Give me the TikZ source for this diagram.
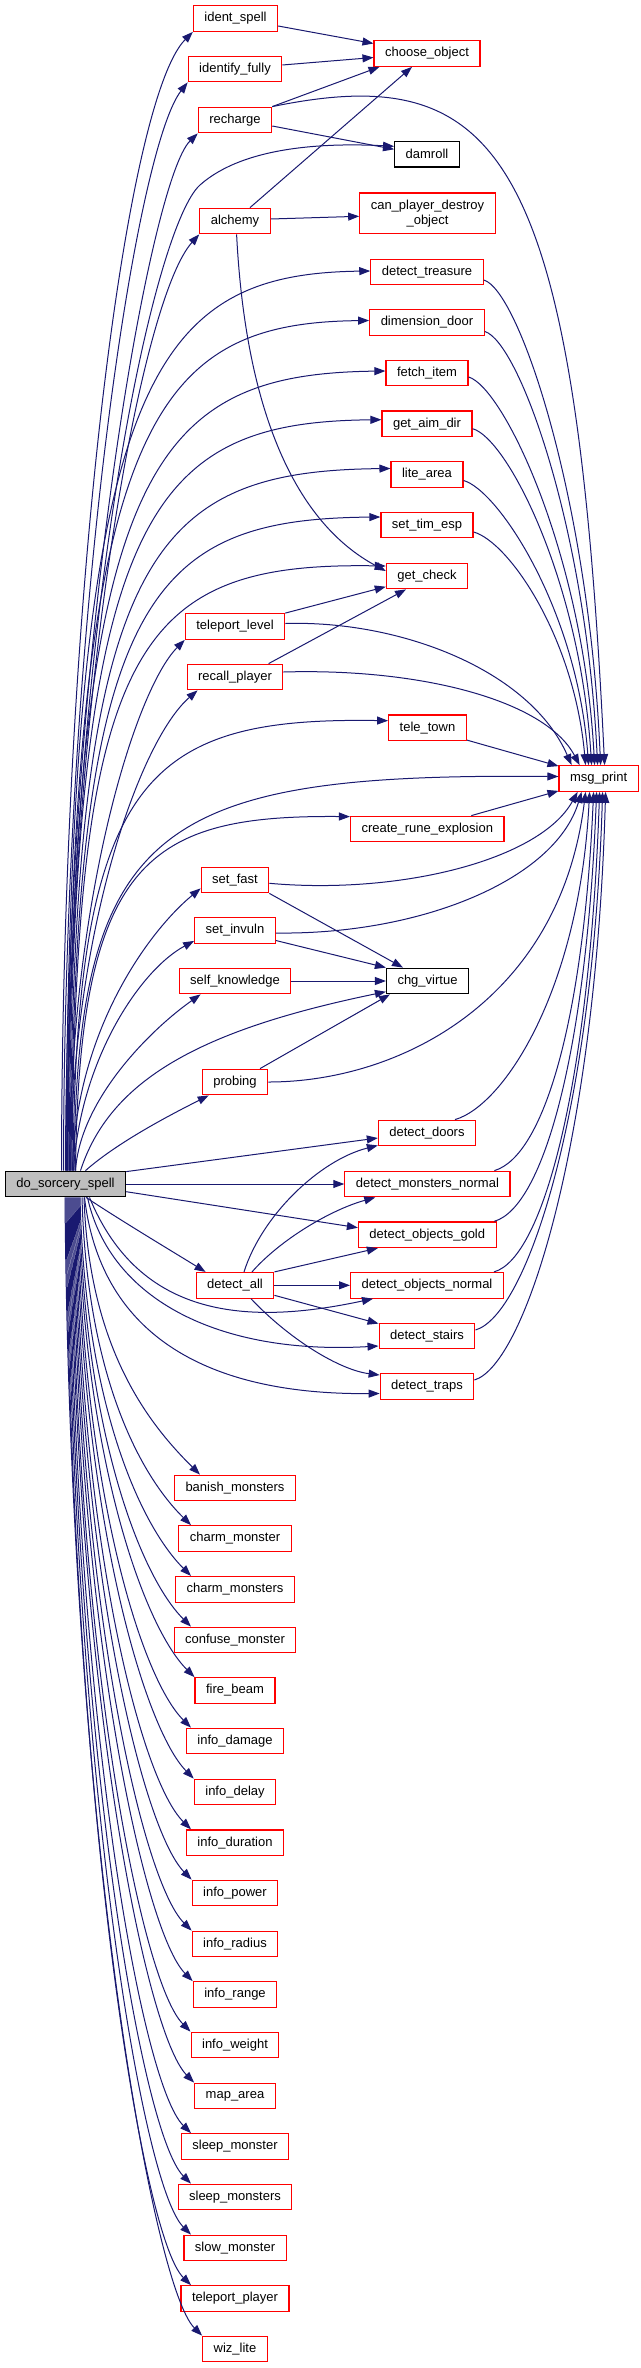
\documentclass[tikz,border=0pt]{standalone}
\usepackage{fontspec}
\setmainfont{Liberation Sans}
\usetikzlibrary{arrows.meta,calc}
\definecolor{edgec}{HTML}{191970}
\definecolor{boxred}{HTML}{FF0000}
\definecolor{rootgray}{HTML}{BFBFBF}
\begin{document}
\begin{tikzpicture}[x=1pt,y=-1pt,
 fn/.style={draw=boxred, fill=white, line width=1.2pt, inner xsep=11pt, inner ysep=0pt, minimum height=25.6pt, font=\fontsize{13}{15}\selectfont, text=black},
 leaf/.style={fn, draw=black},
 root/.style={fn, draw=black, fill=rootgray},
 edge/.style={draw=edgec, line width=1pt, -{Triangle[length=11pt,width=8pt]}}]
\useasboundingbox[fill=white] (0,0) rectangle (640,2368);
% nodes
\node[fn] (ident_spell) at (235.5,18.5) {ident\_spell};
\node[fn] (choose_object) at (427,53.5) {choose\_object};
\node[fn] (identify_fully) at (235,69) {identify\_fully};
\node[fn] (recharge) at (235,120) {recharge};
\node[leaf] (damroll) at (427,154.3) {damroll};
\node[fn] (alchemy) at (235,221) {alchemy};
\node[fn, align=center, minimum height=40.7pt] (can_player) at (427.5,213.3) {can\_player\_destroy\\\_object};
\node[fn] (detect_treasure) at (427,272) {detect\_treasure};
\node[fn] (dimension_door) at (427,322.5) {dimension\_door};
\node[fn] (fetch_item) at (427,373) {fetch\_item};
\node[fn] (get_aim_dir) at (427,423.7) {get\_aim\_dir};
\node[fn] (lite_area) at (427,474.5) {lite\_area};
\node[fn] (set_tim_esp) at (427,525) {set\_tim\_esp};
\node[fn] (get_check) at (427,576) {get\_check};
\node[fn] (teleport_level) at (235,626.5) {teleport\_level};
\node[fn] (recall_player) at (235,677) {recall\_player};
\node[fn] (tele_town) at (427.5,727.7) {tele\_town};
\node[fn] (msg_print) at (598.6,778.5) {msg\_print};
\node[fn] (create_rune_explosion) at (427.3,829) {create\_rune\_explosion};
\node[fn] (set_fast) at (235,880) {set\_fast};
\node[fn] (set_invuln) at (235,930.5) {set\_invuln};
\node[fn] (self_knowledge) at (235,981) {self\_knowledge};
\node[leaf] (chg_virtue) at (427.5,981) {chg\_virtue};
\node[fn] (probing) at (235,1082) {probing};
\node[fn] (detect_doors) at (427,1133) {detect\_doors};
\node[root] (dss) at (65.5,1184) {do\_sorcery\_spell};
\node[fn] (detect_monsters_normal) at (427.4,1184) {detect\_monsters\_normal};
\node[fn] (detect_objects_gold) at (427.3,1234.7) {detect\_objects\_gold};
\node[fn] (detect_all) at (235,1285.3) {detect\_all};
\node[fn] (detect_objects_normal) at (427,1285.3) {detect\_objects\_normal};
\node[fn] (detect_stairs) at (427,1336) {detect\_stairs};
\node[fn] (detect_traps) at (427,1386.5) {detect\_traps};
\node[fn] (banish_monsters) at (235,1488) {banish\_monsters};
\node[fn] (charm_monster) at (235,1538.5) {charm\_monster};
\node[fn] (charm_monsters) at (235,1589.3) {charm\_monsters};
\node[fn] (confuse_monster) at (235,1640) {confuse\_monster};
\node[fn] (fire_beam) at (235,1690.5) {fire\_beam};
\node[fn] (info_damage) at (235,1741) {info\_damage};
\node[fn] (info_delay) at (235,1792) {info\_delay};
\node[fn] (info_duration) at (235,1842.7) {info\_duration};
\node[fn] (info_power) at (235,1893) {info\_power};
\node[fn] (info_radius) at (235,1944) {info\_radius};
\node[fn] (info_range) at (235,1994.5) {info\_range};
\node[fn] (info_weight) at (235,2045) {info\_weight};
\node[fn] (map_area) at (235,2096) {map\_area};
\node[fn] (sleep_monster) at (235,2146.5) {sleep\_monster};
\node[fn] (sleep_monsters) at (235,2197) {sleep\_monsters};
\node[fn] (slow_monster) at (235,2248) {slow\_monster};
\node[fn] (teleport_player) at (235,2298.5) {teleport\_player};
\node[fn] (wiz_lite) at (235,2349) {wiz\_lite};
% edges among callees
\draw[edge] ($(ident_spell.east)+(0,7.5)$) -- ($(choose_object.west)+(0,-10)$);
\draw[edge] ($(identify_fully.east)+(0,-4)$) -- ($(choose_object.west)+(0,4)$);
\draw[edge] (recharge.north east) -- ($(choose_object.south west)+(6,0)$);
\draw[edge] ($(alchemy.north)+(15,0)$) -- ($(choose_object.south)+(-15,0)$);
\draw[edge] ($(recharge.east)+(0,6)$) -- ($(damroll.west)+(0,-5)$);
\draw[edge] (recharge.north east) .. controls (500,60) and (575,150) .. ($(msg_print.north)+(6,0)$);
\draw[edge] ($(alchemy.east)+(0,-2)$) -- ($(can_player.west)+(0,3)$);
\draw[edge] ($(alchemy.south)+(1.6,0)$) .. controls (245,400) and (290,520) .. ($(get_check.west)+(0,-5)$);
\draw[edge] ($(detect_treasure.east)+(0,8)$) .. controls (519,290) and (589,499) .. ($(msg_print.north)+(2,0)$);
\draw[edge] ($(dimension_door.east)+(0,9)$) .. controls (519,342) and (586,527) .. ($(msg_print.north)+(-1,0)$);
\draw[edge] ($(fetch_item.east)+(0,4)$) .. controls (503,387) and (583,552) .. ($(msg_print.north)+(-4,0)$);
\draw[edge] ($(get_aim_dir.east)+(0,5)$) .. controls (507,438) and (580,580) .. ($(msg_print.north)+(-7,0)$);
\draw[edge] ($(lite_area.east)+(0,6)$) .. controls (498,490) and (577,609) .. ($(msg_print.north)+(-10,0)$);
\draw[edge] ($(set_tim_esp.east)+(0,7)$) .. controls (509,542) and (574,637) .. ($(msg_print.north)+(-13,0)$);
\draw[edge] (teleport_level.north east) -- ($(get_check.west)+(0,10.7)$);
\draw[edge] ($(teleport_level.east)+(0,-3)$) .. controls (400,620) and (530,670) .. ($(msg_print.north)+(-27,0)$);
\draw[edge] ($(recall_player.north)+(33.6,0)$) -- ($(get_check.south)+(-21,0)$);
\draw[edge] ($(recall_player.east)+(0,-5)$) .. controls (420,668) and (545,700) .. ($(msg_print.north)+(-19,0)$);
\draw[edge] ($(tele_town.south east)+(0,-1)$) -- ($(msg_print.north west)+(0,1)$);
\draw[edge] ($(create_rune_explosion.north)+(44,0)$) -- ($(msg_print.south west)+(0,-1)$);
\draw[edge] ($(set_fast.east)+(0,3.3)$) .. controls (400,895) and (540,860) .. ($(msg_print.south)+(-21,0)$);
\draw[edge] (set_fast.south east) -- ($(chg_virtue.north)+(-24.5,0)$);
\draw[edge] ($(set_invuln.east)+(0,2.5)$) .. controls (420,935) and (555,880) .. ($(msg_print.south)+(-17,0)$);
\draw[edge] ($(set_invuln.east)+(0,10)$) -- (chg_virtue.north west);
\draw[edge] (self_knowledge.east) -- (chg_virtue.west);
\draw[edge] ($(probing.north)+(25,0)$) -- ($(chg_virtue.south west)+(4,0)$);
\draw[edge] (probing.east) .. controls (400,1082) and (560,1000) .. ($(msg_print.south)+(-13,0)$);
\draw[edge] ($(detect_doors.north)+(28,0)$) .. controls (505,1105) and (579.6,988) .. ($(msg_print.south)+(-9,0)$);
\draw[edge] ($(detect_monsters_normal.north)+(67,0)$) .. controls (544,1156) and (583.6,1019) .. ($(msg_print.south)+(-5,0)$);
\draw[edge] ($(detect_objects_gold.north)+(67,0)$) .. controls (544,1207) and (586.6,1049.7) .. ($(msg_print.south)+(-2,0)$);
\draw[edge] ($(detect_objects_normal.north)+(67,0)$) .. controls (544,1258) and (589.6,1080) .. ($(msg_print.south)+(1,0)$);
\draw[edge] ($(detect_stairs.east)+(0,-6)$) .. controls (526.7,1315) and (592.6,1114.6) .. ($(msg_print.south)+(4,0)$);
\draw[edge] ($(detect_traps.east)+(0,-6.5)$) .. controls (525,1365) and (595.6,1144.4) .. ($(msg_print.south)+(7,0)$);
\draw[edge] ($(detect_all.north)+(9,0)$) .. controls (262,1215) and (320,1160) .. ($(detect_doors.south west)+(0,-1)$);
\draw[edge] ($(detect_all.north)+(17,0)$) .. controls (280,1240) and (330,1210) .. ($(detect_monsters_normal.south west)+(31,0)$);
\draw[edge] (detect_all.north east) -- ($(detect_objects_gold.south west)+(20,0)$);
\draw[edge] (detect_all.east) -- (detect_objects_normal.west);
\draw[edge] ($(detect_all.east)+(0,10)$) -- ($(detect_stairs.north west)+(0,1)$);
\draw[edge] ($(detect_all.south)+(16,0)$) .. controls (290,1340) and (340,1370) .. ($(detect_traps.west)+(0,-11.5)$);
% edges from do_sorcery_spell, upward
\draw[edge] ($(dss.north)+(-4,0)$) .. controls (62,600) and (125,100) .. (ident_spell.south west);
\draw[edge] ($(dss.north)+(-2,0)$) .. controls (64,620) and (135,150) .. (identify_fully.south west);
\draw[edge] (dss.north) .. controls (66,650) and (150,180) .. (recharge.south west);
\draw[edge] ($(dss.north)+(2,0)$) .. controls (68,700) and (140,300) .. (alchemy.south west);
\draw[edge] ($(dss.north)+(1,0)$) .. controls (70,600) and (155,225) .. (200,185) .. controls (245,145) and (330,143) .. ($(damroll.west)+(0,-8)$);
\draw[edge] ($(dss.north)+(0.5,0)$) .. controls (69,379) and (150,274) .. ($(detect_treasure.west)+(0,-1)$);
\draw[edge] ($(dss.north)+(1.5,0)$) .. controls (70,422) and (150,323) .. ($(dimension_door.west)+(0,-2)$);
\draw[edge] ($(dss.north)+(2.5,0)$) .. controls (71,467) and (150,374) .. ($(fetch_item.west)+(0,-2)$);
\draw[edge] ($(dss.north)+(3.5,0)$) .. controls (72,510) and (150,422) .. ($(get_aim_dir.west)+(0,-4)$);
\draw[edge] ($(dss.north)+(4.5,0)$) .. controls (73,553) and (150,471) .. ($(lite_area.west)+(0,-6)$);
\draw[edge] ($(dss.north)+(5.5,0)$) .. controls (74,595) and (150,519) .. ($(set_tim_esp.west)+(0,-8)$);
\draw[edge] ($(dss.north)+(6.5,0)$) .. controls (75,640) and (140,562) .. ($(get_check.west)+(0,-10)$);
\draw[edge] ($(dss.north)+(4,0)$) .. controls (70,900) and (135,690) .. (teleport_level.south west);
\draw[edge] ($(dss.north)+(5,0)$) .. controls (72,930) and (140,740) .. ($(recall_player.south west)+(11,0)$);
\draw[edge] ($(dss.north)+(7.5,0)$) .. controls (76,774) and (150,717) .. ($(tele_town.west)+(0,-7)$);
\draw[edge] ($(dss.north)+(8.5,0)$) .. controls (77,823) and (160,773) .. ($(msg_print.west)+(0,-2)$);
\draw[edge] ($(dss.north)+(10,0)$) .. controls (79,858) and (150,815) .. ($(create_rune_explosion.north west)+(0,1)$);
\draw[edge] ($(dss.north)+(7,0)$) .. controls (75,1030) and (150,930) .. ($(set_fast.south west)+(0,-5)$);
\draw[edge] ($(dss.north)+(8,0)$) .. controls (80,1060) and (140,970) .. ($(set_invuln.south west)+(0,-3)$);
\draw[edge] ($(dss.north)+(10,0)$) .. controls (80,1100) and (150,1030) .. ($(self_knowledge.south west)+(22,0)$);
\draw[edge] ($(dss.north)+(15,0)$) .. controls (110,1080) and (200,1030) .. ($(chg_virtue.west)+(0,10.7)$);
\draw[edge] ($(dss.north)+(20,0)$) .. controls (120,1140) and (180,1110) .. ($(probing.south west)+(7,0)$);
% sideways
\draw[edge] ($(dss.north east)+(0,1)$) -- ($(detect_doors.west)+(0,5)$);
\draw[edge] (dss.east) -- (detect_monsters_normal.west);
\draw[edge] ($(dss.east)+(0,7.7)$) -- ($(detect_objects_gold.west)+(0,-7)$);
% downward
\draw[edge] ($(dss.south)+(20.5,0)$) .. controls (120,1220) and (170,1250) .. ($(detect_all.north west)+(10,0)$);
\draw[edge] ($(dss.south)+(24,0)$) .. controls (140,1320) and (250,1325) .. ($(detect_objects_normal.south west)+(23,0)$);
\draw[edge] ($(dss.south)+(22,0)$) .. controls (110,1300) and (220,1355) .. ($(detect_stairs.west)+(0,10)$);
\draw[edge] ($(dss.south)+(19,0)$) .. controls (100,1330) and (200,1395) .. ($(detect_traps.west)+(0,7)$);
\draw[edge] ($(dss.south)+(18.5,0)$) .. controls (89,1350) and (150,1425) .. ($(banish_monsters.north)+(-35,0)$);
\draw[edge] ($(dss.south)+(16.5,0)$) .. controls (87,1378) and (141,1476) .. ($(charm_monster.north)+(-44,0)$);
\draw[edge] ($(dss.south)+(14.5,0)$) .. controls (85,1405.6) and (141,1526) .. ($(charm_monsters.north)+(-44,0)$);
\draw[edge] ($(dss.south)+(13.5,0)$) .. controls (84,1433.5) and (141,1577) .. ($(confuse_monster.north)+(-44,0)$);
\draw[edge] ($(dss.south)+(12.5,0)$) .. controls (83,1461) and (145,1628) .. (fire_beam.north west);
\draw[edge] ($(dss.south)+(11.5,0)$) .. controls (82,1489) and (141,1678) .. ($(info_damage.north)+(-44,0)$);
\draw[edge] ($(dss.south)+(10.5,0)$) .. controls (81,1517) and (144.5,1729) .. (info_delay.north west);
\draw[edge] ($(dss.south)+(9.5,0)$) .. controls (80,1545) and (141,1780) .. ($(info_duration.north)+(-44,0)$);
\draw[edge] ($(dss.south)+(8.5,0)$) .. controls (79,1573) and (143,1830) .. (info_power.north west);
\draw[edge] ($(dss.south)+(7.5,0)$) .. controls (78,1601) and (142,1881) .. (info_radius.north west);
\draw[edge] ($(dss.south)+(6.5,0)$) .. controls (77,1628) and (144,1932) .. (info_range.north west);
\draw[edge] ($(dss.south)+(5.5,0)$) .. controls (76,1656) and (141,1982) .. (info_weight.north west);
\draw[edge] ($(dss.south)+(4.5,0)$) .. controls (75,1684) and (145,2033) .. (map_area.north west);
\draw[edge] ($(dss.south)+(3.5,0)$) .. controls (74,1712) and (141,2084) .. ($(sleep_monster.north)+(-44,0)$);
\draw[edge] ($(dss.south)+(2.5,0)$) .. controls (73,1740) and (141,2134) .. ($(sleep_monsters.north)+(-44,0)$);
\draw[edge] ($(dss.south)+(1.5,0)$) .. controls (72,1768) and (141,2185) .. ($(slow_monster.north)+(-44,0)$);
\draw[edge] ($(dss.south)+(0.5,0)$) .. controls (71,1796) and (141,2236) .. ($(teleport_player.north)+(-44,0)$);
\draw[edge] ($(dss.south)+(-0.5,0)$) .. controls (70,1823) and (152,2286) .. (wiz_lite.north west);
\end{tikzpicture}
\end{document}
